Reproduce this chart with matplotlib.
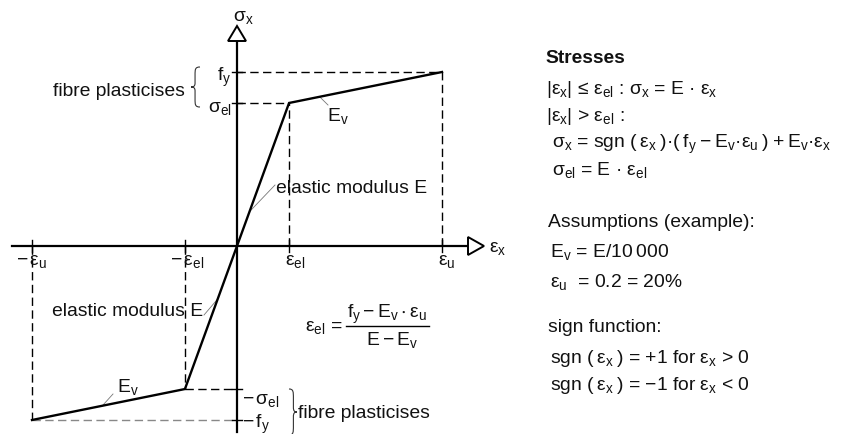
import numpy as np
import matplotlib.pyplot as plt
from matplotlib.patches import Polygon, PathPatch
from matplotlib.path import Path

plt.rcParams['font.family'] = ['Liberation Sans', 'DejaVu Sans']
plt.rcParams['mathtext.fontset'] = 'custom'
plt.rcParams['mathtext.rm'] = 'Liberation Sans'
plt.rcParams['mathtext.it'] = 'Liberation Sans'
plt.rcParams['mathtext.bf'] = 'Liberation Sans:bold'
plt.rcParams['mathtext.default'] = 'regular'

# bilinear stress-strain law, normalised so that eps_u = 1 and f_y = 1
eps_u = 1.0
eps_el = 0.254
f_y = 1.0
sig_el = 0.822
strain = np.array([-eps_u, -eps_el, 0.0, eps_el, eps_u])
stress = np.array([-f_y, -sig_el, 0.0, sig_el, f_y])

W, H = 844, 435
X0, Y0 = 237, 247        # origin of the diagram in pixels
SX, SY = 205.0, 174.0    # pixels per unit strain / stress
FS = 13.9
TS = '\u2009'            # thin space

fig = plt.figure(figsize=(W/100., H/100.), dpi=100)
ax = fig.add_axes([0, 0, 1, 1])
ax.set_xlim(-X0/SX, (W-X0)/SX)
ax.set_ylim(-(H-Y0)/SY, Y0/SY)
ax.axis('off')

def px(x, y):
    return (x-X0)/SX, (Y0-y)/SY

def txt(x, y, s, **kw):
    kw.setdefault('fontsize', FS)
    ax.text(*px(x, y), s, va='baseline', color='#111111', **kw)

def on_curve(s):
    return s, np.interp(s, strain, stress)

dash = dict(color='k', lw=1.0, dashes=(6.0, 3.2), zorder=2)

# axes with open arrow heads
ax.plot([px(12, 0)[0], px(468, 0)[0]], [0, 0], color='k', lw=1.6, zorder=3)
ax.plot([0, 0], [px(0, 42)[1], px(0, 433)[1]], color='k', lw=1.6, zorder=3)
ax.add_patch(Polygon([px(468, 238), px(484, 247), px(468, 256)], closed=True,
                     fc='white', ec='k', lw=1.4, zorder=4))
ax.add_patch(Polygon([px(228, 42), px(237, 27), px(246, 42)], closed=True,
                     fc='white', ec='k', lw=1.4, zorder=4))

# ticks
th, tw = 6/SY, 5/SX
for s in [-eps_u, -eps_el, eps_el, eps_u]:
    ax.plot([s, s], [-th, th], color='k', lw=1.0, zorder=3)
for v in [-f_y, -sig_el, sig_el, f_y]:
    ax.plot([-tw, tw], [v, v], color='k', lw=1.0, zorder=3)

# dashed guides
ax.plot([0, eps_u], [f_y, f_y], **dash)
ax.plot([0, eps_el], [sig_el, sig_el], **dash)
ax.plot([eps_el, eps_el], [0, sig_el], **dash)
ax.plot([eps_u, eps_u], [0, f_y], **dash)
ax.plot([-eps_u, -eps_u], [0, -f_y], **dash)
ax.plot([-eps_el, -eps_el], [0, -sig_el], **dash)
ax.plot([-eps_el, 0], [-sig_el, -sig_el], **dash)
ax.plot([-eps_u, 0], [-f_y, -f_y], color='#888888', lw=1.0, dashes=(6.0, 3.2), zorder=2)

# stress-strain curve
ax.plot(strain, stress, color='k', lw=1.7, solid_joinstyle='miter', zorder=5)

# thin leader lines
lead = dict(color='#777777', lw=0.6, zorder=4)
for s, p in [(eps_el+0.2*(eps_u-eps_el), (328, 106)),
             (0.24*eps_el, (275, 186)),
             (-0.37*eps_el, (204, 316)),
             (-eps_u+0.46*(eps_u-eps_el), (113, 395))]:
    a = on_curve(s)
    b = px(*p)
    ax.plot([a[0], b[0]], [a[1], b[1]], **lead)

# curly braces
def brace(x_tip, x_end, y_top, y_bot):
    u = [(1, 0), (0.45, 0), (0.45, 0.06), (0.45, 0.2), (0.45, 0.4),
         (0.45, 0.48), (0.3, 0.5), (0, 0.5), (0.3, 0.5), (0.45, 0.52),
         (0.45, 0.6), (0.45, 0.8), (0.45, 0.94), (0.45, 1), (1, 1)]
    codes = [Path.MOVETO, Path.CURVE4, Path.CURVE4, Path.CURVE4, Path.LINETO,
             Path.CURVE4, Path.CURVE4, Path.CURVE4, Path.CURVE4, Path.CURVE4,
             Path.CURVE4, Path.LINETO, Path.CURVE4, Path.CURVE4, Path.CURVE4]
    verts = [px(x_tip+a*(x_end-x_tip), y_top+b*(y_bot-y_top)) for a, b in u]
    ax.add_patch(PathPatch(Path(verts, codes), fc='none', ec='#333333', lw=0.8))

brace(191, 200, 68, 108)
brace(297, 289, 390, 436)

# labels of the diagram
txt(233, 21, r'$σ_x$')
txt(489, 252, r'$ε_x$')
txt(231, 81, r'$f_y$', ha='right')
txt(232, 112, r'$σ_{el}$', ha='right')
txt(185, 96, 'fibre plasticises', ha='right')
txt(285, 265, r'$ε_{el}$')
txt(438, 265, r'$ε_u$')
txt(170, 265, r'$-\,ε_{el}$')
txt(16, 265, r'$-\,ε_u$')
txt(327, 121, r'$E_v$')
txt(276, 193, 'elastic modulus E')
txt(52, 316, 'elastic modulus E')
txt(117, 392, r'$E_v$')
txt(242, 404, r'$-\,σ_{el}$')
txt(242, 428, r'$-\,f_y$')
txt(298, 418, 'fibre plasticises')

# eps_el formula
txt(305, 331, r'$ε_{el}$ =')
txt(387.5, 318, r'$f_y - E_v \cdot ε_u$', ha='center')
ax.plot([px(346, 0)[0], px(429, 0)[0]], [px(0, 327)[1]]*2, color='k', lw=1.0)
txt(392, 345, r'$E - E_v$', ha='center')

# text block on the right
txt(545, 63, 'Stresses', fontweight='bold')
txt(546, 94, r'|$ε_x$| ≤ $ε_{el}$ : $σ_x$ = E · $ε_x$')
txt(546, 121, r'|$ε_x$| > $ε_{el}$ :')
txt(552, 148, r'$σ_x$ = sgn (' + TS + r'$ε_x$' + TS + ')·(' + TS + r'$f_y$' + TS + '−' + TS
    + r'$E_v$·$ε_u$' + TS + ')' + TS + '+' + TS + r'$E_v$·$ε_x$')
txt(552, 175, r'$σ_{el}$ = E · $ε_{el}$')
txt(548, 227, 'Assumptions (example):')
txt(550, 257, r'$E_v$ = E/10' + TS + '000')
txt(550, 287, r'$ε_u$  = 0.2 = 20%')
txt(548, 332, 'sign function:')
txt(550, 363, r'sgn (' + TS + r'$ε_x$' + TS + ') = +1 for $ε_x$ > 0')
txt(550, 390, r'sgn (' + TS + r'$ε_x$' + TS + ') = −1 for $ε_x$ < 0')

plt.savefig('out.png', dpi=100)
